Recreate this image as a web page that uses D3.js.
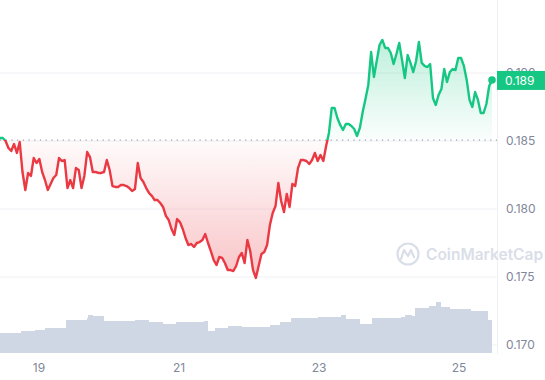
<!DOCTYPE html>
<html lang="en">
<head>
<meta charset="utf-8">
<title>Price chart</title>
<style>
  body { margin: 0; background: #fff; }
  svg { display: block; font-family: Inter, "Noto Sans", sans-serif; }
</style>
<script src="https://cdn.jsdelivr.net/npm/d3@7"></script>
</head>
<body>
<script>
// hourly-ish price readings, first to last
const prices = [
  0.18522, 0.18522, 0.18500, 0.18449, 0.18426, 0.18478, 0.18412, 0.18493, 0.18272, 0.18140,
  0.18265, 0.18243, 0.18375, 0.18338, 0.18368, 0.18272, 0.18213, 0.18140, 0.18184, 0.18228,
  0.18250, 0.18375, 0.18353, 0.18360, 0.18154, 0.18213, 0.18154, 0.18301, 0.18287, 0.18154,
  0.18243, 0.18419, 0.18382, 0.18272, 0.18272, 0.18265, 0.18265, 0.18272, 0.18360, 0.18287,
  0.18169, 0.18162, 0.18162, 0.18176, 0.18176, 0.18169, 0.18154, 0.18132, 0.18147, 0.18338,
  0.18228, 0.18199, 0.18154, 0.18118, 0.18096, 0.18066, 0.18066, 0.18044, 0.18015, 0.17949,
  0.17919, 0.17853, 0.17809, 0.17926, 0.17904, 0.17853, 0.17787, 0.17735, 0.17743, 0.17721,
  0.17750, 0.17757, 0.17772, 0.17816, 0.17750, 0.17691, 0.17625, 0.17588, 0.17647, 0.17640,
  0.17603, 0.17551, 0.17551, 0.17544, 0.17581, 0.17647, 0.17676, 0.17603, 0.17772, 0.17691,
  0.17551, 0.17493, 0.17581, 0.17669, 0.17684, 0.17735, 0.17882, 0.17971, 0.18022, 0.18191,
  0.18059, 0.17978, 0.18110, 0.18015, 0.18184, 0.18169, 0.18301, 0.18360, 0.18360, 0.18353,
  0.18331, 0.18360, 0.18412, 0.18353, 0.18397, 0.18353, 0.18463, 0.18559, 0.18743, 0.18743,
  0.18669, 0.18618, 0.18581, 0.18625, 0.18625, 0.18610, 0.18588, 0.18537, 0.18596, 0.18713,
  0.18809, 0.18912, 0.19154, 0.18971, 0.19088, 0.19206, 0.19243, 0.19184, 0.19184, 0.19147,
  0.19066, 0.19140, 0.19221, 0.19096, 0.18963, 0.19132, 0.19074, 0.19007, 0.19088, 0.19228,
  0.19074, 0.19052, 0.19044, 0.19066, 0.18816, 0.18765, 0.18838, 0.18882, 0.19029, 0.18934,
  0.19007, 0.19029, 0.19022, 0.19110, 0.19110, 0.19052, 0.18949, 0.18802, 0.18750, 0.18860,
  0.18802, 0.18706, 0.18706, 0.18772, 0.18904, 0.18949
];
const startDay = 18.443, endDay = 25.471;
const openPrice = 0.18507;

// volume steps (day, value)
const volDays = [18.443, 18.743, 18.943, 19.086, 19.357, 19.386, 19.686, 19.700, 19.771, 19.929,
  20.314, 20.371, 20.514, 20.571, 20.714, 20.771, 20.914, 20.957, 21.357, 21.386, 21.414, 21.514,
  21.700, 21.900, 22.243, 22.300, 22.443, 22.600, 22.886, 22.986, 23.286, 23.314, 23.386, 23.529,
  23.586, 23.714, 23.757, 24.171, 24.229, 24.329, 24.371, 24.571, 24.671, 24.743, 24.871, 25.114,
  25.171, 25.357, 25.414, 25.471];
const volumes = [20, 22, 23, 25, 25, 33, 35, 38, 37, 32,
  32, 33, 33, 31, 31, 29, 29, 31, 32, 32, 22, 25,
  27, 26, 26, 28, 31, 35, 35, 36, 36, 38, 34, 34,
  29, 29, 35, 36, 38, 37, 45, 47, 51, 46, 44, 44,
  42, 42, 33, 33];

const xTicks = [19, 21, 23, 25];
const yTicks = [0.170, 0.175, 0.180, 0.185, 0.190];

const width = 545, height = 380, plotRight = 497;
const green = "#16c784", red = "#ea3943";

const x = d3.scaleLinear().domain([startDay, endDay]).range([0, 492]);
const y = d3.scaleLinear().domain([0.170, 0.190]).range([345, 73]);
const yv = d3.scaleLinear().domain([0, 100]).range([353, 253]);

const data = prices.map((p, i) => ({
  t: startDay + i * (endDay - startDay) / (prices.length - 1),
  p: p
}));
const vol = volDays.map((d, i) => ({t: d, v: volumes[i]}));

const svg = d3.select("body").append("svg")
  .attr("width", width)
  .attr("height", height);

const defs = svg.append("defs");
const yb = y(openPrice);

defs.append("clipPath").attr("id", "above")
  .append("rect").attr("x", 0).attr("y", 0).attr("width", plotRight).attr("height", yb);
defs.append("clipPath").attr("id", "below")
  .append("rect").attr("x", 0).attr("y", yb).attr("width", plotRight).attr("height", height - yb);

const gUp = defs.append("linearGradient").attr("id", "gUp")
  .attr("gradientUnits", "userSpaceOnUse")
  .attr("x1", 0).attr("x2", 0).attr("y1", y(0.1925)).attr("y2", yb);
gUp.append("stop").attr("offset", 0).attr("stop-color", green).attr("stop-opacity", 0.28);
gUp.append("stop").attr("offset", 1).attr("stop-color", green).attr("stop-opacity", 0.02);

const gDown = defs.append("linearGradient").attr("id", "gDown")
  .attr("gradientUnits", "userSpaceOnUse")
  .attr("x1", 0).attr("x2", 0).attr("y1", yb).attr("y2", y(0.1749));
gDown.append("stop").attr("offset", 0).attr("stop-color", red).attr("stop-opacity", 0.02);
gDown.append("stop").attr("offset", 1).attr("stop-color", red).attr("stop-opacity", 0.3);

// grid
svg.append("g")
  .selectAll("line")
  .data(yTicks)
  .join("line")
  .attr("x1", 0).attr("x2", plotRight)
  .attr("y1", d => y(d)).attr("y2", d => y(d))
  .attr("stroke", "#f0f1f4")
  .attr("stroke-width", 1);

svg.append("line")
  .attr("x1", plotRight + 0.5).attr("x2", plotRight + 0.5)
  .attr("y1", 0).attr("y2", 354)
  .attr("stroke", "#eff1f4");

// volume
svg.append("path")
  .datum(vol)
  .attr("fill", "#cfd6e4")
  .attr("d", d3.area().curve(d3.curveStepAfter)
    .x(d => x(d.t)).y0(yv(0)).y1(d => yv(d.v)));

// watermark
const wm = svg.append("g").attr("fill", "none").attr("stroke", "#d9dee8");
wm.append("circle").attr("cx", 408).attr("cy", 254).attr("r", 10.5).attr("stroke-width", 2.2);
wm.append("path")
  .attr("d", "M401,259 L404,250 L408,256 L411,250 L414,257")
  .attr("stroke-width", 2.2).attr("stroke-linejoin", "round").attr("stroke-linecap", "round");
svg.append("text")
  .attr("x", 426).attr("y", 260)
  .attr("fill", "#d9dee8")
  .style("font-size", "15.5px")
  .style("font-weight", 600)
  .text("CoinMarketCap");

// fills
const area = d3.area().x(d => x(d.t)).y0(yb).y1(d => y(d.p));
svg.append("path").datum(data)
  .attr("clip-path", "url(#above)")
  .attr("fill", "url(#gUp)")
  .attr("d", area);
svg.append("path").datum(data)
  .attr("clip-path", "url(#below)")
  .attr("fill", "url(#gDown)")
  .attr("d", area);

// open price reference
svg.append("line")
  .attr("x1", 0).attr("x2", plotRight)
  .attr("y1", yb).attr("y2", yb)
  .attr("stroke", "#9aa0ab")
  .attr("stroke-width", 1.2)
  .attr("stroke-dasharray", "1.2,4.5");

// price line
const line = d3.line().x(d => x(d.t)).y(d => y(d.p));
svg.append("path").datum(data)
  .attr("clip-path", "url(#above)")
  .attr("fill", "none").attr("stroke", green).attr("stroke-width", 2.4)
  .attr("stroke-linejoin", "round")
  .attr("d", line);
svg.append("path").datum(data)
  .attr("clip-path", "url(#below)")
  .attr("fill", "none").attr("stroke", red).attr("stroke-width", 2.4)
  .attr("stroke-linejoin", "round")
  .attr("d", line);

const last = data[data.length - 1];
svg.append("circle")
  .attr("cx", x(last.t)).attr("cy", y(last.p)).attr("r", 3.8)
  .attr("fill", green);

// y labels
svg.append("g")
  .selectAll("text")
  .data(yTicks)
  .join("text")
  .attr("x", 506)
  .attr("y", d => y(d))
  .attr("dy", "0.35em")
  .attr("fill", "#7f879a")
  .style("font-size", "12px")
  .text(d => d3.format(".3f")(d));

// x labels
svg.append("g")
  .selectAll("text")
  .data(xTicks)
  .join("text")
  .attr("x", d => x(d))
  .attr("y", 368)
  .attr("dy", "0.35em")
  .attr("text-anchor", "middle")
  .attr("fill", "#7f879a")
  .style("font-size", "12px")
  .text(d => d);

// current price tag
svg.append("rect")
  .attr("x", plotRight).attr("y", y(last.p) - 9)
  .attr("width", width - plotRight).attr("height", 19)
  .attr("fill", green);
svg.append("text")
  .attr("x", 505).attr("y", y(last.p) + 0.5)
  .attr("dy", "0.35em")
  .attr("fill", "#fff")
  .style("font-size", "12px")
  .text(d3.format(".3f")(last.p));
</script>
</body>
</html>
